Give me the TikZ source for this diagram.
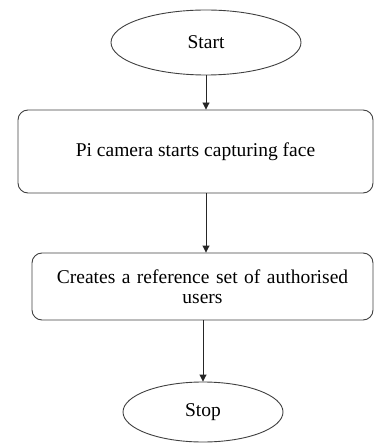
\documentclass[tikz,border=0pt]{standalone}
\usepackage{fontspec}
\setmainfont{Liberation Serif}
\usetikzlibrary{shapes.geometric,arrows.meta}
\begin{document}
\begin{tikzpicture}[x=1pt, y=-1pt,
  font=\fontsize{19.5}{21}\selectfont,
  terminal/.style={ellipse, draw=black!75, line width=0.9pt, inner sep=0pt},
  procbox/.style={rectangle, rounded corners=10pt, draw=black!75, line width=0.9pt,
    inner sep=0pt, align=center},
  flow/.style={draw=black!85, line width=0.9pt, -{Triangle[length=7pt,width=7pt]}}]
% Page frame (pixel units of the reference)
\useasboundingbox (0,0) rectangle (375,443);
% Terminals
\node[terminal, minimum width=190pt, minimum height=65pt] (start) at (206,42.5) {Start};
\node[terminal, minimum width=160pt, minimum height=60pt] (stop) at (203,412) {Stop};
% Process steps
\node[procbox, minimum width=355pt, minimum height=83pt] (capture) at (195.5,151.5)
  {\raisebox{4pt}{Pi camera starts capturing face}};
\node[procbox, minimum width=341pt, minimum height=67pt, text width=320pt] (refset) at (202.5,286.5)
  {Creates a reference set of authorised\\[-1pt] users\\[2pt]};
% Connectors
\draw[flow] (start.south) -- (start.south |- capture.north);
\draw[flow] (capture.south -| start.south) -- (start.south |- refset.north);
\draw[flow] (refset.south -| stop.north) -- (stop.north);
\end{tikzpicture}
\end{document}
